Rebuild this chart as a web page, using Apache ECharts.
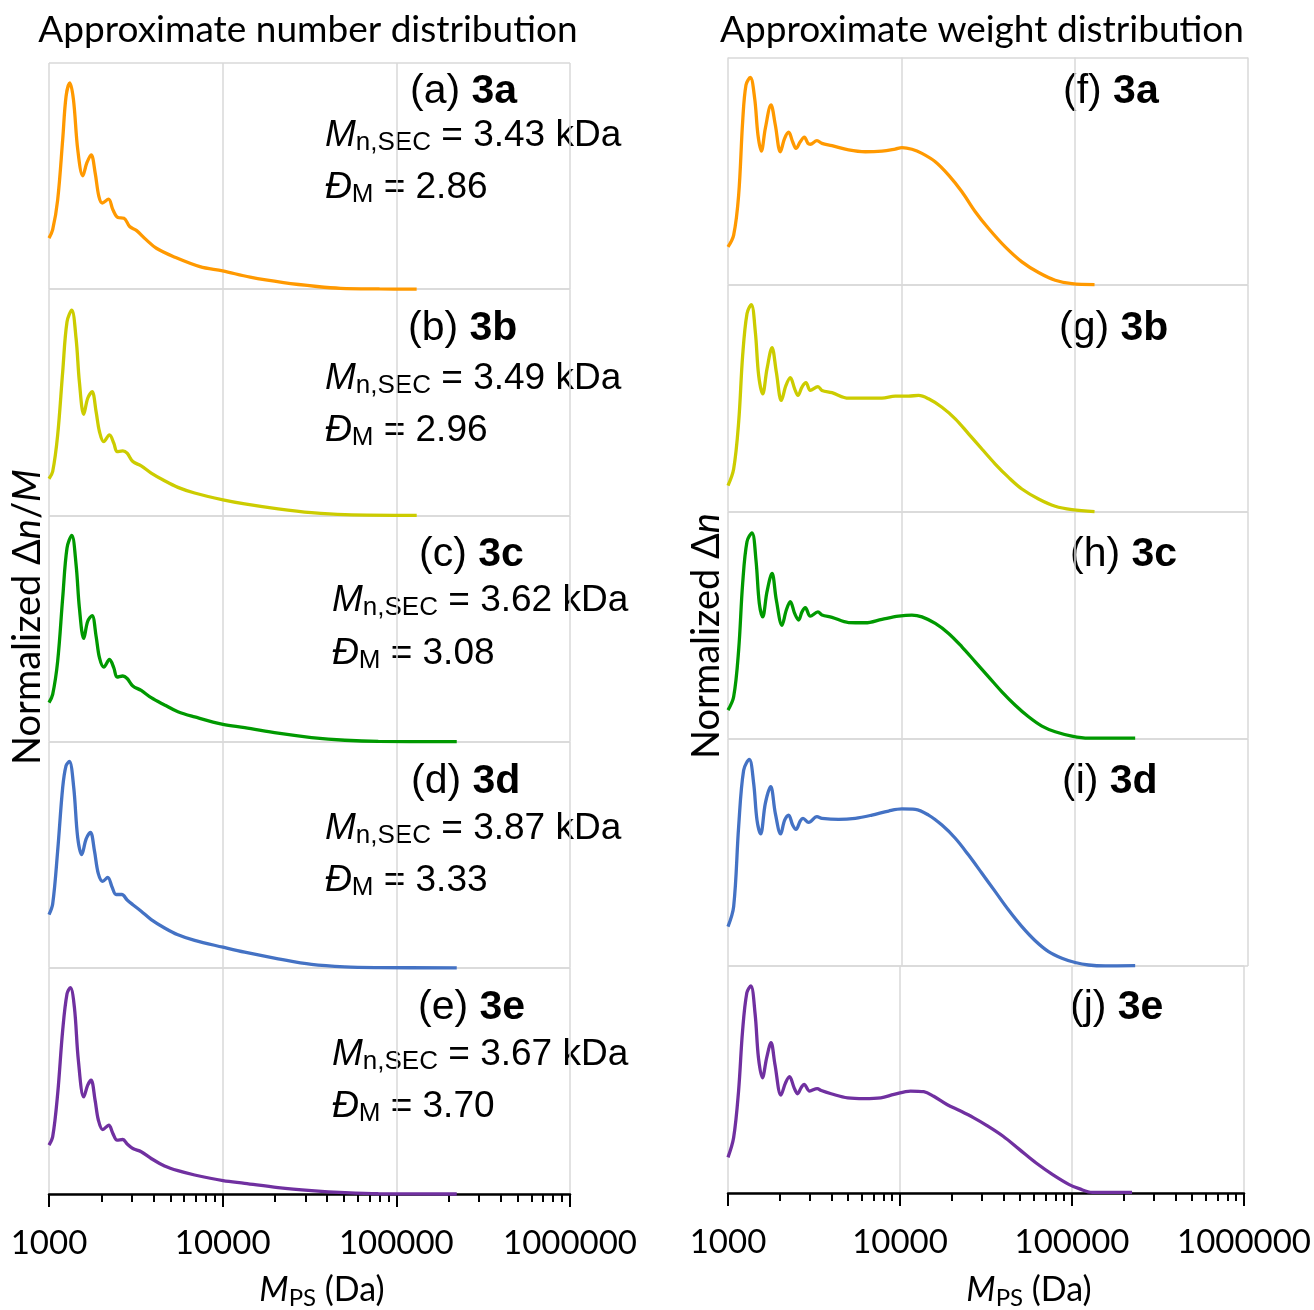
<!DOCTYPE html>
<html>
<head>
<meta charset="utf-8">
<script src="https://cdn.jsdelivr.net/npm/echarts@6/dist/echarts.min.js"></script>
<style>
  html, body { margin: 0; padding: 0; background: #ffffff; }
  #chart { width: 1314px; height: 1310px; }
</style>
</head>
<body>
<div id="chart"></div>
<script>
// ---- axis ticks (M_PS, Da) ----
const MAJOR_TICKS = [1000, 10000, 100000, 1000000];
const MINOR_TICKS = [2000, 3000, 4000, 5000, 6000, 7000, 8000, 9000,
  20000, 30000, 40000, 50000, 60000, 70000, 80000, 90000,
  200000, 300000, 400000, 500000, 600000, 700000, 800000, 900000];

// ---- approximate number distributions, [M_PS (Da), normalized Δn/M] ----
const numberA = [[1000,0.226],[1050,0.263],[1122,0.395],[1199,0.661],[1254,0.853],[1317,0.912],[1383,0.838],[1464,0.617],[1565,0.501],[1651,0.558],[1749,0.594],[1845,0.513],[1937,0.41],[2025,0.381],[2203,0.398],[2333,0.351],[2494,0.317],[2702,0.314],[2913,0.277],[3184,0.26],[3637,0.218],[4154,0.181],[5186,0.145],[7396,0.1],[10000,0.081],[14390,0.053],[22420,0.029],[34950,0.012],[47670,0.004],[80000,0.001],[130900,0]];
const numberB = [[1000,0.162],[1050,0.194],[1122,0.356],[1199,0.635],[1270,0.856],[1352,0.907],[1432,0.782],[1496,0.591],[1585,0.447],[1671,0.518],[1770,0.547],[1867,0.459],[1952,0.371],[2067,0.326],[2229,0.356],[2362,0.319],[2468,0.282],[2661,0.285],[2818,0.275],[3039,0.238],[3396,0.219],[3877,0.187],[4629,0.153],[5525,0.124],[6895,0.099],[10045,0.069],[13395,0.051],[20857,0.029],[32480,0.012],[50560,0.003],[131000,0]];
const numberC = [[1000,0.172],[1050,0.209],[1122,0.356],[1199,0.635],[1270,0.856],[1352,0.912],[1432,0.782],[1496,0.591],[1585,0.456],[1671,0.532],[1770,0.557],[1867,0.466],[1952,0.371],[2067,0.329],[2229,0.363],[2362,0.326],[2468,0.285],[2661,0.29],[2818,0.279],[3039,0.246],[3396,0.226],[3877,0.194],[4629,0.162],[5525,0.132],[6895,0.109],[10045,0.076],[13395,0.062],[20857,0.037],[32480,0.018],[50560,0.006],[78760,0.001],[222800,0]];
const numberD = [[1000,0.235],[1050,0.282],[1122,0.518],[1199,0.797],[1253,0.893],[1310,0.912],[1388,0.797],[1463,0.576],[1543,0.5],[1635,0.569],[1732,0.599],[1826,0.518],[1925,0.415],[2040,0.382],[2180,0.4],[2310,0.356],[2435,0.324],[2626,0.324],[2818,0.3],[3039,0.279],[3396,0.25],[3877,0.213],[4629,0.176],[5525,0.146],[6895,0.121],[10045,0.091],[13395,0.069],[20857,0.04],[32480,0.015],[50560,0.004],[78760,0.001],[222800,0]];
const numberE = [[1000,0.216],[1050,0.253],[1122,0.444],[1199,0.724],[1270,0.885],[1327,0.912],[1400,0.826],[1476,0.591],[1585,0.429],[1671,0.481],[1747,0.503],[1842,0.415],[1925,0.326],[2040,0.285],[2209,0.304],[2330,0.268],[2468,0.238],[2661,0.241],[2818,0.221],[3039,0.201],[3396,0.187],[3877,0.157],[4629,0.124],[5525,0.103],[6895,0.084],[10045,0.059],[13395,0.047],[20857,0.028],[32480,0.015],[50560,0.006],[78760,0.001],[222800,0]];

// ---- approximate weight distributions, [M_PS (Da), normalized Δn] ----
const weightF = [[1000,0.166],[1078,0.218],[1152,0.394],[1215,0.718],[1270,0.879],[1345,0.912],[1425,0.82],[1489,0.659],[1557,0.588],[1642,0.688],[1770,0.791],[1875,0.703],[2004,0.585],[2122,0.644],[2238,0.671],[2360,0.629],[2467,0.6],[2613,0.629],[2756,0.649],[2893,0.622],[2984,0.618],[3261,0.634],[3485,0.622],[3979,0.612],[4965,0.593],[6194,0.585],[7731,0.588],[9226,0.597],[10080,0.603],[11510,0.596],[13150,0.578],[15700,0.541],[18740,0.482],[22360,0.409],[26700,0.321],[31870,0.247],[39760,0.166],[49610,0.1],[61890,0.053],[77220,0.019],[96360,0.004],[130200,0]];
const weightG = [[1000,0.115],[1078,0.188],[1152,0.394],[1215,0.688],[1287,0.872],[1363,0.912],[1438,0.791],[1503,0.6],[1585,0.519],[1679,0.629],[1794,0.722],[1900,0.615],[2031,0.49],[2160,0.556],[2288,0.59],[2424,0.541],[2534,0.512],[2672,0.549],[2817,0.568],[2984,0.534],[3304,0.551],[3485,0.534],[3979,0.524],[4965,0.5],[6194,0.5],[7731,0.5],[9226,0.509],[11013,0.509],[12580,0.512],[14360,0.497],[17150,0.46],[20470,0.409],[24430,0.343],[29160,0.276],[34820,0.21],[41560,0.151],[49610,0.1],[61890,0.056],[77220,0.024],[96360,0.009],[130200,0]];
const weightH = [[1000,0.126],[1078,0.185],[1152,0.391],[1215,0.684],[1287,0.868],[1375,0.907],[1450,0.787],[1516,0.596],[1585,0.537],[1679,0.648],[1794,0.728],[1900,0.611],[2048,0.5],[2170,0.567],[2288,0.604],[2424,0.552],[2556,0.523],[2672,0.559],[2793,0.577],[2984,0.54],[3304,0.559],[3485,0.545],[3979,0.535],[4965,0.512],[6194,0.511],[7731,0.526],[9643,0.54],[11510,0.545],[13150,0.537],[15700,0.508],[18740,0.464],[22360,0.405],[26700,0.339],[31870,0.273],[38040,0.207],[45410,0.148],[54200,0.097],[64710,0.056],[77220,0.031],[96360,0.012],[120200,0.003],[223400,0.003]];
const weightI = [[1000,0.173],[1078,0.261],[1152,0.613],[1231,0.862],[1327,0.909],[1406,0.804],[1470,0.642],[1543,0.581],[1642,0.716],[1762,0.789],[1875,0.672],[2013,0.581],[2122,0.642],[2238,0.664],[2360,0.62],[2467,0.601],[2613,0.639],[2707,0.65],[2918,0.632],[3261,0.657],[3485,0.65],[4346,0.645],[5425,0.65],[6769,0.664],[8446,0.682],[10080,0.691],[12034,0.689],[14360,0.664],[17150,0.62],[20470,0.562],[24430,0.488],[29160,0.408],[34820,0.327],[41560,0.246],[49610,0.173],[59220,0.111],[70690,0.063],[84380,0.034],[100700,0.015],[120200,0.004],[150000,0],[223400,0.001]];
const weightJ = [[1000,0.157],[1078,0.243],[1152,0.449],[1215,0.713],[1287,0.882],[1357,0.912],[1438,0.787],[1503,0.596],[1585,0.507],[1679,0.596],[1778,0.662],[1875,0.566],[2031,0.431],[2160,0.485],[2278,0.512],[2424,0.463],[2534,0.437],[2672,0.466],[2768,0.478],[2984,0.449],[3304,0.46],[3485,0.451],[3979,0.437],[4965,0.419],[6194,0.416],[7731,0.419],[9226,0.434],[11510,0.449],[13740,0.446],[15700,0.426],[18740,0.39],[22360,0.362],[26700,0.332],[31870,0.298],[39760,0.25],[49610,0.191],[61890,0.132],[77220,0.081],[96360,0.037],[110000,0.019],[131300,0.003],[223400,0.003]];

// ---- panel annotations ----
const NUMBER_PANELS = ['(a)', '(b)', '(c)', '(d)', '(e)'];
const WEIGHT_PANELS = ['(f)', '(g)', '(h)', '(i)', '(j)'];
const SAMPLES = ['3a', '3b', '3c', '3d', '3e'];
const MN_SEC = ['3.43', '3.49', '3.62', '3.87', '3.67'];
const DISPERSITY = ['2.86', '2.96', '3.08', '3.33', '3.70'];

const NUMBER_SERIES = [numberA, numberB, numberC, numberD, numberE];
const WEIGHT_SERIES = [weightF, weightG, weightH, weightI, weightJ];
const COLORS = ['#FF9900', '#CCCC00', '#009900', '#4472C4', '#7030A0'];

// ---- layout ----
const GRID_COLOR = '#d9d9d9';
const LEFT_COL = { left: 49, width: 521, top: 63, panelH: 226.2 };
const RIGHT_COL = { left: 728, width: 520, top: 57.5, panelH: 227.1 };
const TICK_FONT = 'Lato';
const NOTE_FONT = 'Liberation Sans';

const chart = echarts.init(document.getElementById('chart'), null, { renderer: 'canvas' });

const grids = [], xAxes = [], yAxes = [], series = [], bottomGrids = [];

function addColumn(col, dataSets) {
  dataSets.forEach((data, i) => {
    const gi = grids.length;
    const bottom = i === dataSets.length - 1;
    if (bottom) bottomGrids.push(gi);
    grids.push({ left: col.left, width: col.width, top: col.top + i * col.panelH, height: col.panelH });
    xAxes.push({
      type: 'log', logBase: 10, min: 1000, max: 1000000, gridIndex: gi, position: 'bottom',
      axisLine: { show: bottom, onZero: false, lineStyle: { color: '#000', width: 2.5 } },
      axisTick: { show: bottom, customValues: MAJOR_TICKS, length: 13, lineStyle: { color: '#000', width: 2 } },
      axisLabel: {
        show: bottom, customValues: MAJOR_TICKS, margin: 33,
        fontFamily: TICK_FONT, fontSize: 33, color: '#000',
        formatter: v => String(Math.round(v))
      },
      splitLine: { show: true, lineStyle: { color: GRID_COLOR, width: 1.5 } }
    });
    yAxes.push({
      type: 'value', min: 0, max: 1, interval: 1, gridIndex: gi,
      axisLine: { show: false }, axisTick: { show: false }, axisLabel: { show: false },
      splitLine: { show: true, lineStyle: { color: GRID_COLOR, width: 1.5 } }
    });
    series.push({
      type: 'line', xAxisIndex: gi, yAxisIndex: gi, data: data,
      showSymbol: false, smooth: 0.35, clip: false,
      lineStyle: { color: COLORS[i], width: 3.3 }, itemStyle: { color: COLORS[i] },
      silent: true, animation: false
    });
  });
}

addColumn(LEFT_COL, NUMBER_SERIES);
addColumn(RIGHT_COL, WEIGHT_SERIES);

// minor ticks under the bottom panel of each column
bottomGrids.forEach(gi => {
  xAxes.push({
    type: 'log', logBase: 10, min: 1000, max: 1000000, gridIndex: gi, position: 'bottom',
    axisLine: { show: false }, axisLabel: { show: false }, splitLine: { show: false },
    axisTick: { show: true, customValues: MINOR_TICKS, length: 8, lineStyle: { color: '#000', width: 2 } }
  });
});

// ---- text elements ----
const noteRich = {
  n: { fontFamily: NOTE_FONT, fontSize: 37, color: '#000', lineHeight: 40 },
  i: { fontFamily: NOTE_FONT, fontSize: 37, fontStyle: 'italic', color: '#000', lineHeight: 40 },
  s: { fontFamily: NOTE_FONT, fontSize: 26, color: '#000', lineHeight: 14, verticalAlign: 'bottom' },
  p: { fontFamily: NOTE_FONT, fontSize: 41, color: '#000', lineHeight: 44 },
  b: { fontFamily: NOTE_FONT, fontSize: 41, fontWeight: 'bold', color: '#000', lineHeight: 44 }
};
function labelRich(size) {
  return {
    n: { fontFamily: TICK_FONT, fontSize: size, color: '#000', lineHeight: size + 6 },
    i: { fontFamily: TICK_FONT, fontSize: size, fontStyle: 'italic', color: '#000', lineHeight: size + 6 },
    s: { fontFamily: TICK_FONT, fontSize: Math.round(size * 0.7), color: '#000', lineHeight: 14, verticalAlign: 'bottom' }
  };
}

function text(x, y, str, rich, align, rotation) {
  return {
    type: 'text', x: x, y: y, rotation: rotation || 0, silent: true,
    style: { text: str, rich: rich, align: align || 'left', verticalAlign: 'middle' }
  };
}

const graphics = [];
// column headings
graphics.push(text(308, 30, '{n|Approximate number distribution}', labelRich(37), 'center'));
graphics.push(text(982, 30, '{n|Approximate weight distribution}', labelRich(37), 'center'));
// axis titles
graphics.push(text(322, 1290, '{i|M}{s|PS}{n| (Da)}', labelRich(34), 'center'));
graphics.push(text(1029, 1290, '{i|M}{s|PS}{n| (Da)}', labelRich(34), 'center'));
graphics.push(text(28, 617, '{n|Normalized Δ}{i|n}{n|/}{i|M}', labelRich(38), 'center', Math.PI / 2));
graphics.push(text(707, 636, '{n|Normalized Δ}{i|n}', labelRich(38), 'center', Math.PI / 2));

// panel notes, left column
const leftNotePos = [
  { lx: 410, ly: 92, mx: 325, my: 136, dy: 188 },
  { lx: 408, ly: 329, mx: 325, my: 379, dy: 431 },
  { lx: 419, ly: 555, mx: 332, my: 601, dy: 654 },
  { lx: 411, ly: 782, mx: 325, my: 829, dy: 881 },
  { lx: 418, ly: 1008, mx: 332, my: 1055, dy: 1107 }
];
leftNotePos.forEach((p, i) => {
  graphics.push(text(p.lx, p.ly, '{p|' + NUMBER_PANELS[i] + ' }{b|' + SAMPLES[i] + '}', noteRich));
  graphics.push(text(p.mx, p.my, '{i|M}{s|n,SEC}{n| = ' + MN_SEC[i] + ' kDa}', noteRich));
  graphics.push(text(p.mx, p.dy, '{i|Đ}{s|M}{n| = ' + DISPERSITY[i] + '}', noteRich));
});
// panel notes, right column
const rightNotePos = [
  { lx: 1063, ly: 92 }, { lx: 1059, ly: 329 }, { lx: 1070, ly: 555 },
  { lx: 1062, ly: 782 }, { lx: 1070, ly: 1008 }
];
rightNotePos.forEach((p, i) => {
  graphics.push(text(p.lx, p.ly, '{p|' + WEIGHT_PANELS[i] + ' }{b|' + SAMPLES[i] + '}', noteRich));
});

chart.setOption({
  backgroundColor: '#ffffff',
  animation: false,
  grid: grids,
  xAxis: xAxes,
  yAxis: yAxes,
  series: series,
  graphic: graphics
});
</script>
</body>
</html>
